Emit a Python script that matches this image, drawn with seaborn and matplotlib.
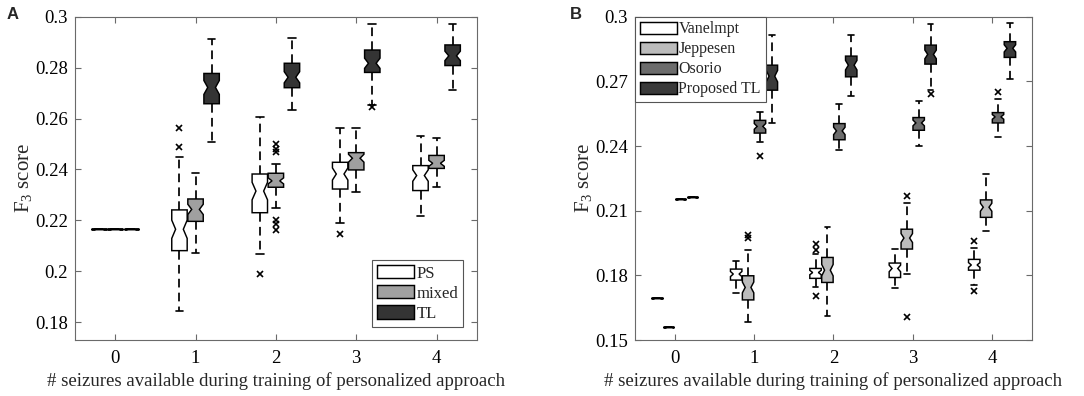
import numpy as np
import pandas as pd
import matplotlib
matplotlib.use("Agg")
import matplotlib.pyplot as plt
import seaborn as sns

# ---------------- data ----------------
x_labels = ["0", "1", "2", "3", "4"]

# Panel A: per x (0..4) -> [lower whisker, q1, median, q3, upper whisker]
A_groups = ["PS", "mixed", "TL"]
A_PS = [[0.2165] * 5,
        [0.1845, 0.2081, 0.2165, 0.2241, 0.2450],
        [0.2067, 0.2230, 0.2315, 0.2382, 0.2605],
        [0.2188, 0.2323, 0.2382, 0.2428, 0.2564],
        [0.2217, 0.2317, 0.2376, 0.2415, 0.2533]]
A_mixed = [[0.2165] * 5,
           [0.2073, 0.2196, 0.2243, 0.2284, 0.2385],
           [0.2250, 0.2330, 0.2355, 0.2385, 0.2421],
           [0.2313, 0.2398, 0.2444, 0.2466, 0.2561],
           [0.2332, 0.2404, 0.2424, 0.2455, 0.2525]]
A_TL = [[0.2165] * 5,
        [0.2509, 0.2658, 0.2722, 0.2777, 0.2912],
        [0.2633, 0.2721, 0.2762, 0.2817, 0.2915],
        [0.2655, 0.2781, 0.2817, 0.2869, 0.2970],
        [0.2712, 0.2808, 0.2846, 0.2889, 0.2971]]
A_PS_fliers = [[], [0.2561, 0.2490], [0.1988], [0.2145], []]
A_mixed_fliers = [[], [], [0.2500, 0.2480, 0.2470, 0.2202, 0.2186, 0.2162], [], []]
A_TL_fliers = [[], [], [], [0.2645], []]

# Panel B
B_groups = ["Vanelmpt", "Jeppesen", "Osorio", "Proposed TL"]
B_Van = [[0.1693] * 5,
         [0.1717, 0.1778, 0.1806, 0.1829, 0.1865],
         [0.1748, 0.1786, 0.1813, 0.1832, 0.1898],
         [0.1741, 0.1790, 0.1832, 0.1857, 0.1922],
         [0.1782, 0.1824, 0.1848, 0.1874, 0.1927]]
B_Jep = [[0.1559] * 5,
         [0.1585, 0.1686, 0.1744, 0.1798, 0.1917],
         [0.1612, 0.1767, 0.1824, 0.1883, 0.2026],
         [0.1806, 0.1922, 0.1973, 0.2014, 0.2136],
         [0.2007, 0.2069, 0.2116, 0.2150, 0.2268]]
B_Oso = [[0.2155] * 5,
         [0.2417, 0.2460, 0.2491, 0.2519, 0.2560],
         [0.2383, 0.2429, 0.2470, 0.2504, 0.2594],
         [0.2398, 0.2473, 0.2507, 0.2532, 0.2608],
         [0.2442, 0.2507, 0.2535, 0.2555, 0.2620]]
B_TL = [[0.2164] * 5,
        [0.2508, 0.2659, 0.2724, 0.2775, 0.2916],
        [0.2632, 0.2721, 0.2775, 0.2817, 0.2916],
        [0.2660, 0.2780, 0.2825, 0.2868, 0.2966],
        [0.2713, 0.2811, 0.2853, 0.2884, 0.2972]]
B_Van_fliers = [[], [], [0.1944, 0.1919, 0.1705], [], [0.1957, 0.1755, 0.1728]]
B_Jep_fliers = [[], [0.1987, 0.1973], [], [0.2166, 0.1607], []]
B_Oso_fliers = [[], [0.2353], [], [], [0.2651]]
B_TL_fliers = [[], [], [], [0.2640], []]

A_colors = ["#ffffff", "#a0a0a0", "#343434"]
B_colors = ["#ffffff", "#bcbcbc", "#6c6c6c", "#3a3a3a"]

# sample size per box (controls notch length)
BLOCK = 15


def build(groups, stats_list, fliers_list):
    rows = []
    for g, stats, fls in zip(groups, stats_list, fliers_list):
        for xl, s, f in zip(x_labels, stats, fls):
            lo, q1, med, q3, hi = s
            vals = [lo] + [q1] * BLOCK + [med] * BLOCK + [q3] * BLOCK + [hi] + list(f)
            for v in vals:
                rows.append((xl, g, v))
    return pd.DataFrame(rows, columns=["n", "group", "score"])


dfA = build(A_groups, [A_PS, A_mixed, A_TL], [A_PS_fliers, A_mixed_fliers, A_TL_fliers])
dfB = build(B_groups, [B_Van, B_Jep, B_Oso, B_TL],
            [B_Van_fliers, B_Jep_fliers, B_Oso_fliers, B_TL_fliers])

# ---------------- style ----------------
sns.set_theme(style="ticks")
plt.rcParams["font.family"] = ["Liberation Serif", "DejaVu Serif"]
plt.rcParams["mathtext.fontset"] = "custom"
plt.rcParams["mathtext.rm"] = "Liberation Serif"
plt.rcParams["mathtext.default"] = "regular"

FS = 13.5
LFS = 11.5
spine_c = "#6a6a6a"

fig = plt.figure(figsize=(10.84, 3.96), dpi=100)
axA = fig.add_axes([0.0692, 0.1414, 0.3706, 0.8165])
axB = fig.add_axes([0.5858, 0.1414, 0.3660, 0.8165])

box_kw = dict(notch=True, width=0.6, gap=0.04, saturation=1, linecolor="black",
              linewidth=1.05, whis=1.5,
              whiskerprops=dict(linestyle=(0, (5, 3)), color="black", linewidth=1.25),
              capprops=dict(color="black", linewidth=1.2),
              medianprops=dict(linewidth=0),
              flierprops=dict(marker="x", markersize=4.5, markeredgecolor="black",
                              markeredgewidth=1.2, markerfacecolor="black"))

sns.boxplot(data=dfA, x="n", y="score", hue="group", order=x_labels,
            hue_order=A_groups, palette=dict(zip(A_groups, A_colors)), ax=axA, **box_kw)
sns.boxplot(data=dfB, x="n", y="score", hue="group", order=x_labels,
            hue_order=B_groups, palette=dict(zip(B_groups, B_colors)), ax=axB, **box_kw)

for ax, ylim, yt in [(axA, (0.173, 0.3), [0.18, 0.2, 0.22, 0.24, 0.26, 0.28, 0.3]),
                     (axB, (0.15, 0.3), [0.15, 0.18, 0.21, 0.24, 0.27, 0.3])]:
    ax.set_xlim(-0.5, 4.5)
    ax.set_ylim(*ylim)
    ax.set_yticks(yt)
    ax.set_yticklabels([("%g" % v) for v in yt])
    ax.tick_params(axis="both", direction="in", length=4, width=0.8, color=spine_c,
                   labelsize=FS, top=True, right=True, labelcolor="black")
    ax.tick_params(axis="x", pad=7)
    ax.tick_params(axis="y", pad=5)
    for sp in ax.spines.values():
        sp.set_visible(True)
        sp.set_color(spine_c)
        sp.set_linewidth(0.8)
    ax.set_xlabel("# seizures available during training of personalized approach",
                  fontsize=FS, labelpad=4)
    ax.set_ylabel("F$_3$ score", fontsize=15, labelpad=1)

sns.move_legend(axA, "lower right", title=None, fontsize=12, frameon=True, fancybox=False,
                framealpha=1, edgecolor="#555555", handlelength=2.2, handleheight=0.85,
                labelspacing=0.22, borderpad=0.3, handletextpad=0.15, borderaxespad=0.8)
sns.move_legend(axB, "upper left", title=None, fontsize=LFS, frameon=True, fancybox=False,
                framealpha=1, edgecolor="#555555", handlelength=2.3, handleheight=0.85,
                labelspacing=0.25, borderpad=0.3, handletextpad=0.12, borderaxespad=0.0)
for ax in (axA, axB):
    ax.get_legend().get_frame().set_linewidth(0.8)

fig.text(0.006, 0.982, "A", fontsize=12, fontweight="bold", family="Liberation Sans",
         va="top", ha="left")
fig.text(0.526, 0.982, "B", fontsize=12, fontweight="bold", family="Liberation Sans",
         va="top", ha="left")

fig.savefig("out.png", dpi=100)
